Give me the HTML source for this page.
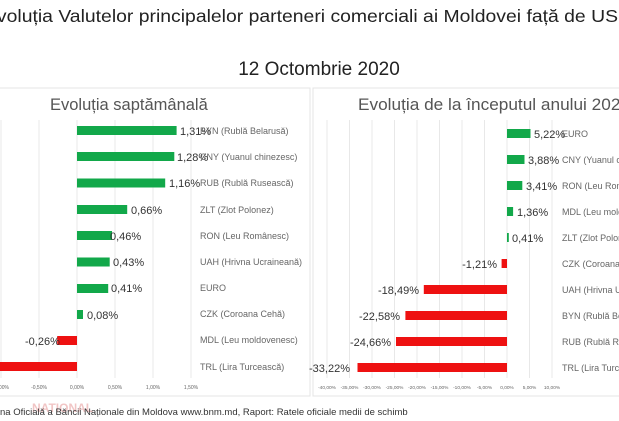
<!DOCTYPE html>
<html><head><meta charset="utf-8"><style>
body{margin:0;background:#fff;width:619px;height:421px;overflow:hidden}
svg{display:block;font-family:"Liberation Sans",sans-serif}
</style></head><body>
<svg width="619" height="421" viewBox="0 0 619 421">
<rect width="619" height="421" fill="#fff"/>
<text x="-16" y="22" font-size="17.5" fill="#222" textLength="648" lengthAdjust="spacingAndGlyphs">Evoluția Valutelor principalelor parteneri comerciali ai Moldovei față de USD</text>
<text x="319" y="75" font-size="19" fill="#222" text-anchor="middle">12 Octombrie 2020</text>
<rect x="-1" y="88" width="311" height="308" fill="none" stroke="#e4e4e4"/>
<rect x="313" y="88" width="310" height="308" fill="none" stroke="#e4e4e4"/>
<text x="50" y="110" font-size="16.5" fill="#555">Evoluția saptămânală</text>
<text x="358" y="110" font-size="16.5" fill="#555" textLength="272" lengthAdjust="spacingAndGlyphs">Evoluția de la începutul anului 2020</text>
<g stroke="#e8e8e8" stroke-width="1">
<line x1="1" y1="120" x2="1" y2="378"/><line x1="39" y1="120" x2="39" y2="378"/><line x1="77" y1="120" x2="77" y2="378"/><line x1="115" y1="120" x2="115" y2="378"/><line x1="153" y1="120" x2="153" y2="378"/><line x1="191" y1="120" x2="191" y2="378"/>
</g>
<g font-size="5" fill="#666" text-anchor="middle">
<text x="1" y="389">-1,00%</text><text x="39" y="389">-0,50%</text><text x="77" y="389">0,00%</text><text x="115" y="389">0,50%</text><text x="153" y="389">1,00%</text><text x="191" y="389">1,50%</text>
</g>
<g fill="#12a84a">
<rect x="77" y="126" width="99.6" height="9"/>
<rect x="77" y="152" width="97.3" height="9"/>
<rect x="77" y="178.5" width="88.2" height="9"/>
<rect x="77" y="205" width="50.2" height="9"/>
<rect x="77" y="231" width="35" height="9"/>
<rect x="77" y="257.5" width="32.7" height="9"/>
<rect x="77" y="284" width="31.2" height="9"/>
<rect x="77" y="310" width="6" height="9"/>
</g>
<g fill="#ee1111">
<rect x="57.2" y="336" width="19.8" height="9"/>
<rect x="-10" y="362" width="87" height="9"/>
</g>
<g font-size="11" fill="#333">
<text x="180" y="135">1,31%</text><text x="177" y="161">1,28%</text><text x="169" y="187">1,16%</text>
<text x="131" y="214">0,66%</text><text x="110" y="240">0,46%</text><text x="113" y="266">0,43%</text>
<text x="111" y="292">0,41%</text><text x="87" y="319">0,08%</text><text x="25" y="345">-0,26%</text>
</g>
<g font-size="9" fill="#666">
<text x="200" y="134">BYN (Rublă Belarusă)</text><text x="200" y="160">CNY (Yuanul chinezesc)</text>
<text x="200" y="186">RUB (Rublă Rusească)</text><text x="200" y="213">ZLT (Zlot Polonez)</text>
<text x="200" y="239">RON (Leu Românesc)</text><text x="200" y="265">UAH (Hrivna Ucraineană)</text>
<text x="200" y="291">EURO</text><text x="200" y="317">CZK (Coroana Cehă)</text>
<text x="200" y="343">MDL (Leu moldovenesc)</text><text x="200" y="370">TRL (Lira Turcească)</text>
</g>
<g stroke="#e8e8e8">
<line x1="327" y1="120" x2="327" y2="378"/><line x1="349.5" y1="120" x2="349.5" y2="378"/><line x1="372" y1="120" x2="372" y2="378"/><line x1="394.5" y1="120" x2="394.5" y2="378"/><line x1="417" y1="120" x2="417" y2="378"/><line x1="439.5" y1="120" x2="439.5" y2="378"/><line x1="462" y1="120" x2="462" y2="378"/><line x1="484.5" y1="120" x2="484.5" y2="378"/><line x1="507" y1="120" x2="507" y2="378"/><line x1="529.5" y1="120" x2="529.5" y2="378"/><line x1="552" y1="120" x2="552" y2="378"/>
</g>
<g font-size="4.8" fill="#666" text-anchor="middle">
<text x="327" y="389">-40,00%</text><text x="349.5" y="389">-35,00%</text><text x="372" y="389">-30,00%</text><text x="394.5" y="389">-25,00%</text><text x="417" y="389">-20,00%</text><text x="439.5" y="389">-15,00%</text><text x="462" y="389">-10,00%</text><text x="484.5" y="389">-5,00%</text><text x="507" y="389">0,00%</text><text x="529.5" y="389">5,00%</text><text x="552" y="389">10,00%</text>
</g>
<g fill="#12a84a">
<rect x="507" y="129" width="23.5" height="9"/>
<rect x="507" y="155" width="17.5" height="9"/>
<rect x="507" y="181" width="15.3" height="9"/>
<rect x="507" y="207" width="6.1" height="9"/>
<rect x="507" y="233" width="1.8" height="9"/>
</g>
<g fill="#ee1111">
<rect x="501.6" y="259" width="5.4" height="9"/>
<rect x="423.8" y="285" width="83.2" height="9"/>
<rect x="405.4" y="311" width="101.6" height="9"/>
<rect x="396" y="337" width="111" height="9"/>
<rect x="357.5" y="363" width="149.5" height="9"/>
</g>
<g font-size="11" fill="#333">
<text x="534" y="138">5,22%</text><text x="528" y="164">3,88%</text><text x="526" y="190">3,41%</text>
<text x="517" y="216">1,36%</text><text x="512" y="242">0,41%</text>
<text x="497" y="268" text-anchor="end">-1,21%</text><text x="419" y="294" text-anchor="end">-18,49%</text>
<text x="400" y="320" text-anchor="end">-22,58%</text><text x="391" y="346" text-anchor="end">-24,66%</text>
<text x="350" y="372" text-anchor="end">-33,22%</text>
</g>
<g font-size="9" fill="#666">
<text x="562" y="137">EURO</text><text x="562" y="163">CNY (Yuanul chinezesc)</text>
<text x="562" y="189">RON (Leu Românesc)</text><text x="562" y="215">MDL (Leu moldovenesc)</text>
<text x="562" y="241">ZLT (Zlot Polonez)</text><text x="562" y="267">CZK (Coroana Cehă)</text>
<text x="562" y="293">UAH (Hrivna Ucraineană)</text><text x="562" y="319">BYN (Rublă Belarusă)</text>
<text x="562" y="345">RUB (Rublă Rusească)</text><text x="562" y="371">TRL (Lira Turcească)</text>
</g>
<text x="32" y="412" font-size="12" font-weight="bold" fill="#e8a0a0" opacity="0.6">NATIONAL</text>
<text x="0" y="415" font-size="9.5" fill="#333">na Oficială a Băncii Naționale din Moldova www.bnm.md, Raport: Ratele oficiale medii de schimb</text>
</svg>
</body></html>
